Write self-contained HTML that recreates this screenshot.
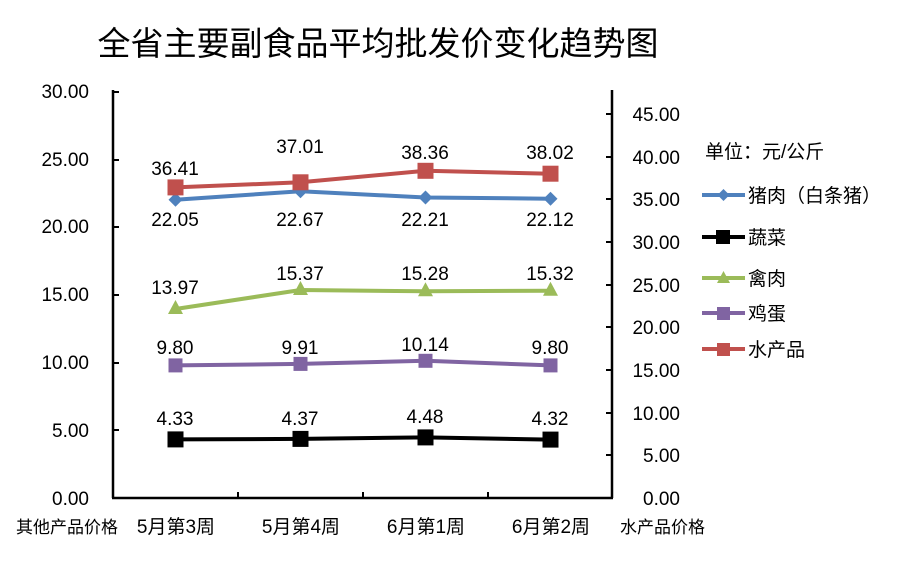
<!DOCTYPE html>
<html><head><meta charset="utf-8"><style>
html,body{margin:0;padding:0;background:#fff;}
svg text{font-family:"Liberation Sans","Noto Sans CJK SC",sans-serif;fill:#000;}
</style></head><body>
<svg width="912" height="559" viewBox="0 0 912 559" xmlns="http://www.w3.org/2000/svg">
<text x="378" y="55" font-size="33" text-anchor="middle" style="font-family:'Noto Sans CJK SC',sans-serif">全省主要副食品平均批发价变化趋势图</text>
<g stroke="#000" stroke-width="2.5" fill="none">
<line x1="113" y1="90" x2="113" y2="498"/>
<line x1="612" y1="90" x2="612" y2="498"/>
<line x1="112" y1="498" x2="613" y2="498"/>
</g>
<g stroke="#000" stroke-width="2">
<line x1="113" y1="92" x2="119" y2="92"/><line x1="113" y1="160" x2="119" y2="160"/><line x1="113" y1="227" x2="119" y2="227"/><line x1="113" y1="295" x2="119" y2="295"/><line x1="113" y1="363" x2="119" y2="363"/><line x1="113" y1="430" x2="119" y2="430"/>
<line x1="606" y1="114" x2="612" y2="114"/><line x1="606" y1="157" x2="612" y2="157"/><line x1="606" y1="199" x2="612" y2="199"/><line x1="606" y1="242" x2="612" y2="242"/><line x1="606" y1="285" x2="612" y2="285"/><line x1="606" y1="327" x2="612" y2="327"/><line x1="606" y1="370" x2="612" y2="370"/><line x1="606" y1="413" x2="612" y2="413"/><line x1="606" y1="455" x2="612" y2="455"/>
<line x1="238" y1="492" x2="238" y2="498"/><line x1="363" y1="492" x2="363" y2="498"/><line x1="488" y1="492" x2="488" y2="498"/>
</g>
<g font-size="19" text-anchor="end">
<text x="89" y="98">30.00</text><text x="89" y="166">25.00</text><text x="89" y="233">20.00</text><text x="89" y="301">15.00</text><text x="89" y="369">10.00</text><text x="89" y="437">5.00</text><text x="89" y="505">0.00</text>
</g>
<g font-size="19" text-anchor="end">
<text x="680" y="121">45.00</text><text x="680" y="164">40.00</text><text x="680" y="206">35.00</text><text x="680" y="249">30.00</text><text x="680" y="292">25.00</text><text x="680" y="334">20.00</text><text x="680" y="377">15.00</text><text x="680" y="420">10.00</text><text x="680" y="462">5.00</text><text x="680" y="505">0.00</text>
</g>
<g font-size="19" style="font-family:'Noto Sans CJK SC',sans-serif">
<text x="16" y="533" font-size="17">其他产品价格</text>
<text x="620" y="533" font-size="17">水产品价格</text>
<text x="176" y="533" text-anchor="middle">5月第3周</text>
<text x="301" y="533" text-anchor="middle">5月第4周</text>
<text x="426" y="533" text-anchor="middle">6月第1周</text>
<text x="551" y="533" text-anchor="middle">6月第2周</text>
</g>
<g stroke-width="4" fill="none">
<polyline stroke="#000" points="175.5,439.4 300.5,438.9 425.5,437.4 550.5,439.6"/>
<polyline stroke="#9bbb59" points="175.5,309 300.5,290 425.5,291.3 550.5,290.7"/>
<polyline stroke="#8064a2" points="175.5,365.4 300.5,363.9 425.5,360.8 550.5,365.4"/>
<polyline stroke="#4f81bd" points="175.5,199.7 300.5,191.3 425.5,197.5 550.5,198.7"/>
<polyline stroke="#c0504d" points="175.5,187.4 300.5,182.3 425.5,170.8 550.5,173.7"/>
</g>
<g fill="#000"><rect x="167.5" y="431.4" width="16" height="16"/><rect x="292.5" y="430.9" width="16" height="16"/><rect x="417.5" y="429.4" width="16" height="16"/><rect x="542.5" y="431.6" width="16" height="16"/></g>
<g fill="#9bbb59"><polygon points="175.5,300 183,314 168,314"/><polygon points="300.5,281 308,295 293,295"/><polygon points="425.5,282.3 433,296.3 418,296.3"/><polygon points="550.5,281.7 558,295.7 543,295.7"/></g>
<g fill="#8064a2"><rect x="168.5" y="358.4" width="14" height="14"/><rect x="293.5" y="356.9" width="14" height="14"/><rect x="418.5" y="353.8" width="14" height="14"/><rect x="543.5" y="358.4" width="14" height="14"/></g>
<g fill="#4f81bd"><polygon points="175.5,192.7 182.5,199.7 175.5,206.7 168.5,199.7"/><polygon points="300.5,184.3 307.5,191.3 300.5,198.3 293.5,191.3"/><polygon points="425.5,190.5 432.5,197.5 425.5,204.5 418.5,197.5"/><polygon points="550.5,191.7 557.5,198.7 550.5,205.7 543.5,198.7"/></g>
<g fill="#c0504d"><rect x="167.5" y="179.4" width="16" height="16"/><rect x="292.5" y="174.3" width="16" height="16"/><rect x="417.5" y="162.8" width="16" height="16"/><rect x="542.5" y="165.7" width="16" height="16"/></g>
<g font-size="19" text-anchor="middle">
<text x="175" y="175">36.41</text><text x="300" y="153">37.01</text><text x="425" y="159">38.36</text><text x="550" y="159">38.02</text>
<text x="175" y="226">22.05</text><text x="300" y="226">22.67</text><text x="425" y="226">22.21</text><text x="550" y="226">22.12</text>
<text x="175" y="294">13.97</text><text x="300" y="280">15.37</text><text x="425" y="280">15.28</text><text x="550" y="280">15.32</text>
<text x="175" y="354">9.80</text><text x="300" y="354">9.91</text><text x="425" y="351">10.14</text><text x="550" y="354">9.80</text>
<text x="175" y="425">4.33</text><text x="300" y="425">4.37</text><text x="425" y="423">4.48</text><text x="550" y="425">4.32</text>
</g>
<g font-size="19" style="font-family:'Noto Sans CJK SC',sans-serif">
<text x="705" y="158">单位：元/公斤</text>
<text x="748" y="202">猪肉（白条猪）</text>
<text x="748" y="244">蔬菜</text>
<text x="748" y="285">禽肉</text>
<text x="748" y="320">鸡蛋</text>
<text x="748" y="356">水产品</text>
</g>
<g stroke-width="4">
<line x1="702" y1="195" x2="745" y2="195" stroke="#4f81bd"/>
<line x1="702" y1="237" x2="745" y2="237" stroke="#000"/>
<line x1="702" y1="278" x2="745" y2="278" stroke="#9bbb59"/>
<line x1="702" y1="313" x2="745" y2="313" stroke="#8064a2"/>
<line x1="702" y1="349" x2="745" y2="349" stroke="#c0504d"/>
</g>
<polygon points="723.5,189 729.5,195 723.5,201 717.5,195" fill="#4f81bd"/>
<rect x="716" y="230" width="14" height="14" fill="#000"/>
<polygon points="723.5,271 730,283 717,283" fill="#9bbb59"/>
<rect x="717" y="307" width="13" height="13" fill="#8064a2"/>
<rect x="717" y="343" width="13" height="13" fill="#c0504d"/>
</svg>
</body></html>
